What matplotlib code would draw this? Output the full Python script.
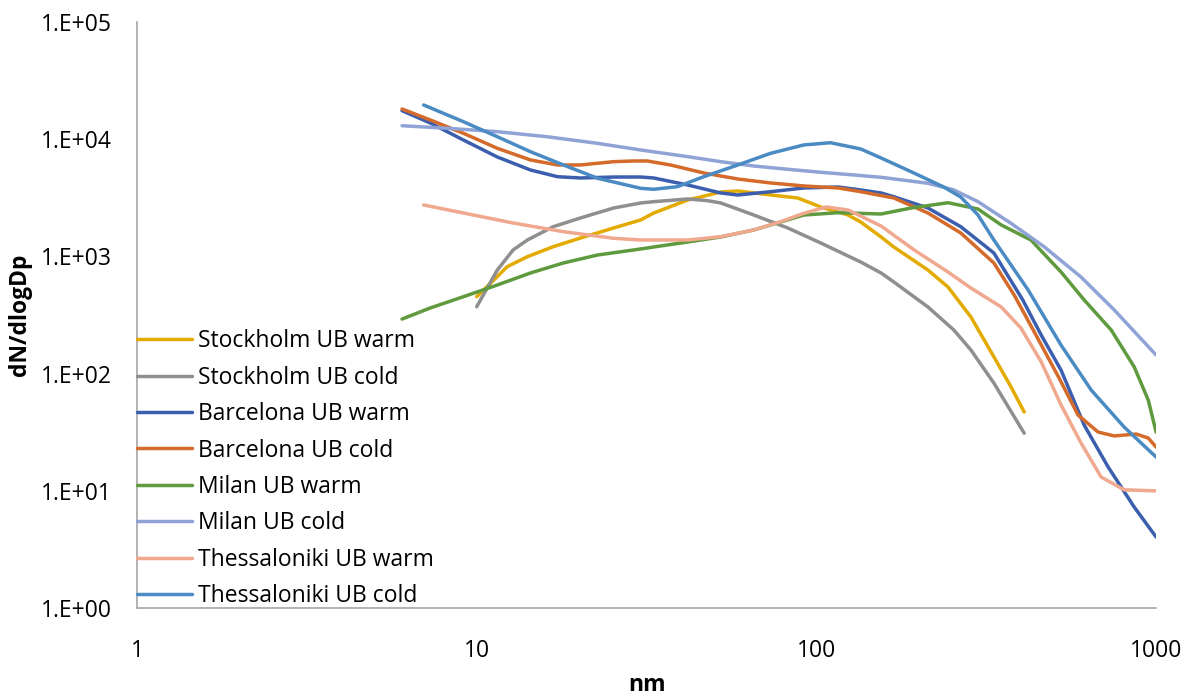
import matplotlib
matplotlib.use("Agg")
import matplotlib.pyplot as plt
from matplotlib.ticker import FixedLocator, NullLocator

plt.rcParams['font.family'] = ['Open Sans', 'DejaVu Sans']

# particle size distributions, x in nm, y in dN/dlogDp
stk_warm_x = [10.0, 11.0, 12.3, 14.1, 16.8, 20.2, 25.3, 30.4, 33.2, 41.8, 52.3, 58.7, 73.4, 88.1, 103, 124, 135, 155, 169, 213, 244, 285, 333, 374, 409]
stk_warm_y = [453, 593, 817, 994, 1210, 1435, 1747, 2046, 2345, 3027, 3542, 3615, 3342, 3150, 2640, 2255, 1966, 1465, 1203, 765, 548, 304, 139, 77, 47]

stk_cold_x = [10.0, 11.5, 12.8, 14.1, 16.8, 20.2, 25.3, 30.4, 33.2, 41.8, 47.9, 52.3, 65.4, 82.4, 103, 135, 155, 169, 213, 254, 285, 333, 409]
stk_cold_y = [372, 765, 1135, 1380, 1792, 2127, 2588, 2857, 2930, 3090, 2988, 2857, 2255, 1747, 1301, 896, 722, 605, 370, 235, 159, 83, 31]

bcn_warm_x = [6.03, 7.30, 9.14, 11.5, 14.4, 17.3, 20.2, 25.3, 30.4, 33.2, 41.8, 52.3, 58.7, 73.4, 91.8, 116, 135, 155, 169, 213, 266, 333, 405, 459, 525, 614, 722, 862, 1000]
bcn_warm_y = [17500, 13750, 9840, 7050, 5460, 4786, 4667, 4755, 4755, 4667, 4066, 3475, 3342, 3565, 3835, 3910, 3687, 3475, 3230, 2588, 1792, 1069, 425, 213, 107, 36.4, 16.0, 7.27, 4.03]

bcn_cold_x = [6.03, 7.30, 9.14, 11.5, 14.4, 17.3, 20.2, 25.3, 29.0, 31.8, 37.2, 46.6, 58.7, 73.4, 91.8, 116, 135, 169, 213, 266, 333, 382, 443, 518, 589, 675, 753, 874, 948, 1000]
bcn_cold_y = [18100, 14590, 11230, 8360, 6650, 6025, 6025, 6430, 6515, 6515, 6025, 5150, 4575, 4230, 3990, 3835, 3565, 3150, 2345, 1585, 879, 469, 213, 91.7, 44.3, 31.7, 29.4, 30.5, 28.2, 23.6]

mil_warm_x = [6.03, 7.30, 9.14, 11.5, 14.4, 18.0, 22.7, 30.4, 33.2, 41.8, 52.3, 65.4, 78.5, 91.8, 116, 155, 190, 244, 299, 350, 428, 525, 614, 738, 862, 948, 1000]
mil_warm_y = [292, 363, 453, 570, 722, 879, 1028, 1157, 1203, 1327, 1465, 1680, 1966, 2255, 2360, 2300, 2588, 2871, 2537, 1854, 1380, 736, 425, 235, 114, 59.5, 31.7]

mil_cold_x = [6.03, 8.18, 11.5, 16.1, 22.6, 30.4, 41.8, 52.3, 65.4, 82.4, 103, 129, 155, 213, 254, 299, 374, 468, 601, 753, 1000]
mil_cold_y = [13030, 12390, 11590, 10500, 9230, 8090, 7095, 6430, 5905, 5536, 5220, 4950, 4730, 4205, 3687, 2930, 1915, 1210, 667, 349, 144]

the_warm_x = [6.98, 9.14, 12.8, 18.0, 25.3, 30.4, 41.8, 52.3, 65.4, 78.5, 91.8, 107, 124, 155, 194, 244, 285, 350, 400, 459, 525, 601, 689, 805, 1000]
the_warm_y = [2746, 2345, 1928, 1625, 1427, 1380, 1380, 1473, 1680, 1978, 2333, 2640, 2488, 1817, 1135, 736, 537, 370, 245, 126, 54, 25.6, 13.1, 10.2, 9.98]

the_cold_x = [6.98, 9.14, 11.5, 14.4, 18.0, 22.7, 30.4, 33.2, 39.0, 46.6, 58.7, 73.4, 91.8, 110, 135, 155, 190, 237, 266, 299, 333, 420, 525, 644, 805, 1000]
the_cold_y = [19580, 14100, 10500, 7820, 6025, 4640, 3810, 3738, 3935, 4786, 6025, 7585, 8930, 9335, 8250, 6915, 5280, 3910, 3213, 2255, 1380, 517, 175, 72.4, 35.0, 19.4]

labels = ["Stockholm UB warm", "Stockholm UB cold", "Barcelona UB warm", "Barcelona UB cold",
          "Milan UB warm", "Milan UB cold", "Thessaloniki UB warm", "Thessaloniki UB cold"]
colors = ["#E3AA00", "#8F8F8F", "#3B5FAE", "#D46B2A", "#5F9B3E", "#8FA3D6", "#F0A88E", "#4B8BC4"]

series = [(stk_warm_x, stk_warm_y), (stk_cold_x, stk_cold_y), (bcn_warm_x, bcn_warm_y), (bcn_cold_x, bcn_cold_y),
          (mil_warm_x, mil_warm_y), (mil_cold_x, mil_cold_y), (the_warm_x, the_warm_y), (the_cold_x, the_cold_y)]

x_ticks = [1, 10, 100, 1000]
y_ticks = [1, 10, 100, 1000, 10000, 100000]
y_tick_labels = ["1.E+00", "1.E+01", "1.E+02", "1.E+03", "1.E+04", "1.E+05"]

fig = plt.figure(figsize=(11.92, 7), dpi=100)
ax = fig.add_axes([0.1149, 0.1314, 0.855, 0.8372])

for (xs, ys), lab, c in zip(series, labels, colors):
    ax.plot(xs, ys, color=c, lw=2.5, label=lab, solid_joinstyle='round', solid_capstyle='round')

ax.set_xscale('log')
ax.set_yscale('log')
ax.set_xlim(1, 1000)
ax.set_ylim(1, 100000)
ax.xaxis.set_major_locator(FixedLocator(x_ticks))
ax.xaxis.set_minor_locator(NullLocator())
ax.yaxis.set_major_locator(FixedLocator(y_ticks))
ax.yaxis.set_minor_locator(NullLocator())
ax.set_xticklabels([str(t) for t in x_ticks])
ax.set_yticklabels(y_tick_labels)
ax.tick_params(axis='both', length=0, labelsize=16.5, colors='black')
ax.tick_params(axis='x', pad=22)
ax.tick_params(axis='y', pad=18)

for side in ['top', 'right']:
    ax.spines[side].set_visible(False)
for side in ['left', 'bottom']:
    ax.spines[side].set_color('#A6A6A6')
    ax.spines[side].set_linewidth(1.2)

ax.set_xlabel("nm", fontsize=16.5, fontweight='bold')
ax.xaxis.label.set_va('baseline')
ax.xaxis.set_label_coords(0.5, -0.142)
ax.set_ylabel("dN/dlogDp", fontsize=16.5, fontweight='bold')
ax.yaxis.set_label_coords(-0.103, 0.5)

ax.legend(loc='lower left', bbox_to_anchor=(0, 0), frameon=False, fontsize=16.5,
          handlelength=2.4, handletextpad=0.25, labelspacing=0.54, borderpad=0, borderaxespad=0)

plt.savefig("out.png", dpi=100)
